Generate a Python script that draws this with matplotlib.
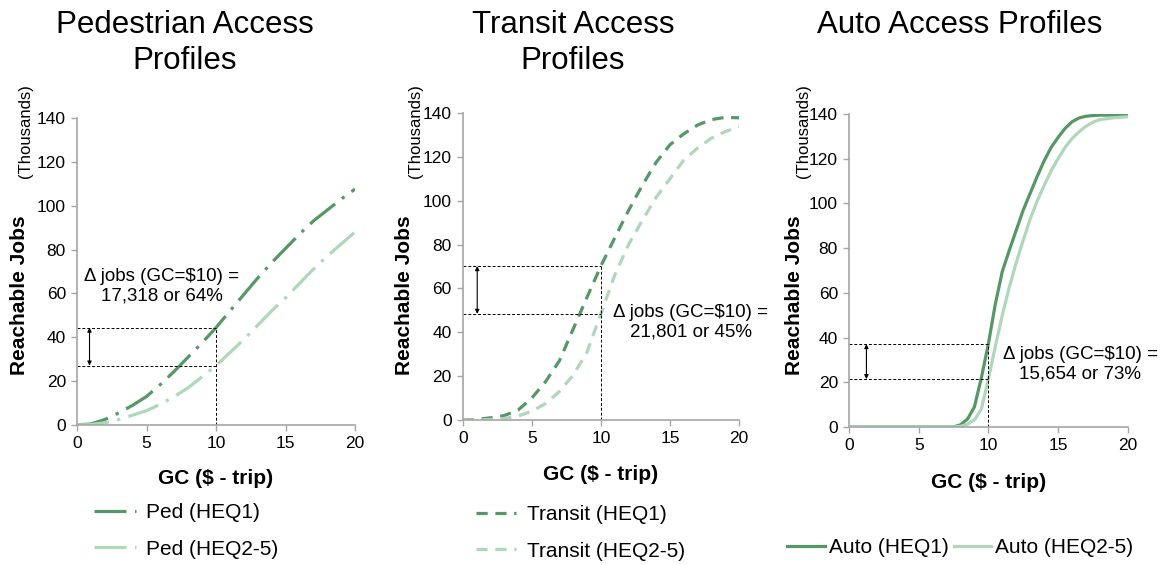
import matplotlib
matplotlib.use('Agg')
import matplotlib.pyplot as plt

plt.rcParams['font.family'] = ['Liberation Sans', 'DejaVu Sans']

W, H = 1165, 565

DARK = '#559866'
LIGHT = '#afd7ba'
AXIS_GREY = '#a6a6a6'

# --- data (thousands of reachable jobs vs generalized cost, $ per trip) ---
GC = list(range(21))
PED_HEQ1 = [0, 0.5, 2.5, 5.5, 9, 13, 18.5, 24.5, 31, 37.5, 44.4,
            52, 59.5, 67, 74, 80.5, 87, 93, 98, 103, 107.6]
PED_HEQ2 = [0, 0.2, 1, 2.5, 4.5, 6.5, 9.5, 13, 17, 22, 27.1,
            33, 39, 45.5, 52, 58, 64.5, 71, 77, 82.5, 88]

TRANSIT_HEQ1 = [0, 0.2, 1, 2, 4.5, 10, 17.5, 27, 41.5, 56, 70.2,
                83, 95.5, 107, 117.5, 125.5, 130.5, 134.5, 137, 138, 137.8]
TRANSIT_HEQ2 = [0, 0, 0.2, 0.7, 1.8, 4, 7.5, 13, 20.5, 31, 48.4,
                66, 80, 91, 101.5, 110, 118.5, 124, 128.5, 131.5, 133.7]

AUTO_GC = [0, 7.5, 8, 8.5, 9, 9.5, 10, 10.5, 11, 11.5, 12, 12.5, 13,
           13.5, 14, 14.5, 15, 15.5, 16, 16.5, 17, 17.5, 18, 19, 20]
AUTO_HEQ1 = [0, 0, 1, 3.5, 9, 22, 37.1, 55, 69.5, 79, 88, 97, 104.5,
             112, 119, 125, 129.5, 133.5, 136.5, 138.2, 139, 139.3, 139.5, 139.5, 139.5]
AUTO_HEQ2 = [0, 0, 0.3, 1.2, 3.2, 8, 21.4, 36, 50, 62.5, 73.5, 83.5, 93,
             101, 108, 114.5, 120, 125, 129, 132, 134.5, 136.3, 137.5, 138.3, 138.8]

# delta annotations: (hi, lo, text, text pos)
PED_DELTA = (44.4, 27.1, 'Δ jobs (GC=$10) =\n17,318 or 64%', (6.1, 63.4))
TRANSIT_DELTA = (70.2, 48.4, 'Δ jobs (GC=$10) =\n21,801 or 45%', (16.5, 44.5))
AUTO_DELTA = (37.1, 21.4, 'Δ jobs (GC=$10) =\n15,654 or 73%', (16.6, 28.2))


def rect(x0, y0, x1, y1):
    return [x0 / W, 1 - y1 / H, (x1 - x0) / W, (y1 - y0) / H]


def style_axes(ax):
    for s in ['top', 'right']:
        ax.spines[s].set_visible(False)
    for s in ['left', 'bottom']:
        ax.spines[s].set_color(AXIS_GREY)
        ax.spines[s].set_linewidth(1.2)
    ax.set_xlim(0, 20)
    ax.set_ylim(0, 140)
    ax.set_xticks([0, 5, 10, 15, 20])
    ax.set_yticks(range(0, 141, 20))
    ax.tick_params(direction='out', length=4, width=1, color=AXIS_GREY,
                   labelsize=12.5, labelcolor='black', pad=4)
    ax.set_xlabel('GC ($ - trip)', fontsize=15, fontweight='bold')
    ax.xaxis.set_label_coords(0.5, -54 / 307)
    ax.xaxis.label.set_verticalalignment('center')


def delta_marks(ax, delta, arrow_x):
    hi, lo, txt, (tx, ty) = delta
    ax.plot([0, 10], [hi, hi], color='black', lw=0.7, ls=(0, (3, 2)))
    ax.plot([0, 10], [lo, lo], color='black', lw=0.7, ls=(0, (3, 2)))
    ax.plot([10, 10], [0, hi], color='black', lw=0.7, ls=(0, (3, 2)))
    ax.annotate('', xy=(arrow_x, hi), xytext=(arrow_x, lo),
                arrowprops=dict(arrowstyle='<|-|>', color='black', lw=0.8,
                                shrinkA=0, shrinkB=0, mutation_scale=6))
    ax.text(tx, ty, txt, ha='center', va='center', fontsize=13.5,
            linespacing=1.2, clip_on=False)


def ylabels(ycx, thx):
    fig.text(ycx / W, 1 - 295 / H, 'Reachable Jobs', rotation=90, fontsize=15,
             fontweight='bold', ha='center', va='center')
    fig.text(thx / W, 1 - 131 / H, '(Thousands)', rotation=90, fontsize=12,
             ha='center', va='center')


fig = plt.figure(figsize=(W / 100, H / 100), dpi=100)

# Pedestrian
ax1 = fig.add_axes(rect(77, 118, 355, 425))
ped_ls = (0, (10, 2.7, 1, 2.7))
ax1.plot(GC, PED_HEQ1, color=DARK, lw=2.3, ls=ped_ls, label='Ped (HEQ1)')
ax1.plot(GC, PED_HEQ2, color=LIGHT, lw=2.3, ls=ped_ls, label='Ped (HEQ2-5)')
style_axes(ax1)
delta_marks(ax1, PED_DELTA, 0.9)
ax1.legend(loc='upper left', bbox_to_anchor=(94 / W, 1 - 503 / H),
           bbox_transform=fig.transFigure, frameon=False, fontsize=15,
           handlelength=2.0, handletextpad=0.5, labelspacing=0.85,
           borderpad=0, borderaxespad=0)
ylabels(20, 25)
fig.text(185 / W, 1 - 10 / H, 'Pedestrian Access\nProfiles', ha='center',
         va='top', fontsize=22.5, linespacing=1.28)

# Transit
ax2 = fig.add_axes(rect(462.7, 113, 739, 420))
tr_ls = (0, (3.5, 2.4))
ax2.plot(GC, TRANSIT_HEQ1, color=DARK, lw=2.3, ls=tr_ls, label='Transit (HEQ1)')
ax2.plot(GC, TRANSIT_HEQ2, color=LIGHT, lw=2.3, ls=tr_ls, label='Transit (HEQ2-5)')
style_axes(ax2)
delta_marks(ax2, TRANSIT_DELTA, 1.05)
ax2.legend(loc='upper left', bbox_to_anchor=(476 / W, 1 - 505 / H),
           bbox_transform=fig.transFigure, frameon=False, fontsize=15,
           handlelength=1.9, handletextpad=0.55, labelspacing=0.85,
           borderpad=0, borderaxespad=0)
ylabels(405, 415)
fig.text(573 / W, 1 - 10 / H, 'Transit Access\nProfiles', ha='center',
         va='top', fontsize=22.5, linespacing=1.28)

# Auto
ax3 = fig.add_axes(rect(849, 114, 1127.7, 427))
ax3.plot(AUTO_GC, AUTO_HEQ1, color=DARK, lw=2.3, label='Auto (HEQ1)')
ax3.plot(AUTO_GC, AUTO_HEQ2, color=LIGHT, lw=2.3, label='Auto (HEQ2-5)')
style_axes(ax3)
delta_marks(ax3, AUTO_DELTA, 1.25)
ax3.legend(loc='upper left', bbox_to_anchor=(787 / W, 1 - 538 / H),
           bbox_transform=fig.transFigure, frameon=False, fontsize=15, ncol=2,
           handlelength=1.8, handletextpad=0.2, columnspacing=0.25,
           borderpad=0, borderaxespad=0)
ylabels(795, 803)
fig.text(960 / W, 1 - 10 / H, 'Auto Access Profiles', ha='center',
         va='top', fontsize=22.5)

fig.savefig('out.png', dpi=100)
